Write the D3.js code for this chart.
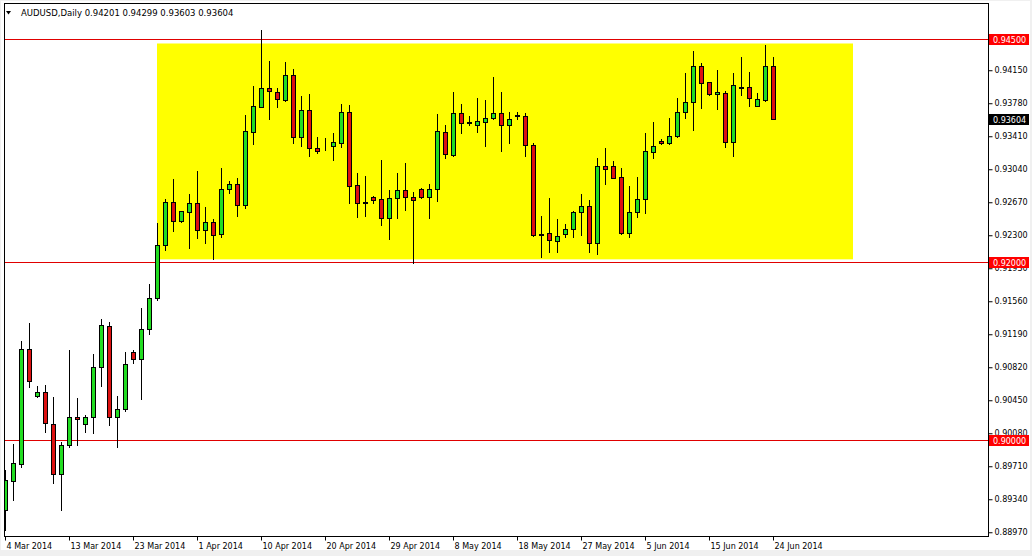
<!DOCTYPE html>
<html>
<head>
<meta charset="utf-8">
<script src="https://cdn.jsdelivr.net/npm/d3@7"></script>
<style>
  html, body { margin: 0; padding: 0; background: #f0f0f0; }
  svg { display: block; }
  text { font-family: "DejaVu Sans", sans-serif; }
</style>
</head>
<body>
<svg id="chart" width="1032" height="556"></svg>
<script>
// ---------------- DATA ----------------
const symbolTitle = "AUDUSD,Daily";
const firstBarDate = "2014-03-04";   // first visible daily bar (broker shows Sunday bars, no Saturday bars)
const openPrices = [
  0.89220,0.89545,0.89735,0.91025,0.90498,0.90543,0.90184,0.89623,0.89948,0.90262,
  0.90184,0.90262,0.90823,0.91283,0.90262,0.90352,0.90991,0.90913,0.91249,0.91596,
  0.92191,0.92673,0.92460,0.92561,0.92661,0.92359,0.92448,0.92314,0.92818,0.92874,
  0.92639,0.93457,0.93738,0.93951,0.93906,0.93816,0.94096,0.93401,0.93704,0.93278,
  0.93300,0.93300,0.93334,0.93682,0.92863,0.92673,0.92729,0.92706,0.92493,0.92717,
  0.92807,0.92729,0.92818,0.92729,0.92818,0.93457,0.93200,0.93670,0.93570,0.93536,
  0.93570,0.93614,0.93670,0.93536,0.93648,0.93637,0.93312,0.92314,0.92325,0.92235,
  0.92314,0.92370,0.92561,0.92628,0.92213,0.93076,0.93076,0.92953,0.92325,0.92561,
  0.92706,0.93233,0.93357,0.93334,0.93413,0.93682,0.93794,0.94197,0.94018,0.93883,
  0.93895,0.93345,0.93962,0.93962,0.93749,0.93816,0.94201
];
const highPrices = [
  0.89668,0.89960,0.91114,0.91317,0.90610,0.90621,0.90487,0.89982,0.91013,0.90475,
  0.90285,0.90969,0.91361,0.91327,0.90498,0.90991,0.91013,0.91484,0.91753,0.92437,
  0.92706,0.92930,0.92572,0.92762,0.93020,0.92617,0.92482,0.93054,0.92908,0.92942,
  0.93648,0.93973,0.94601,0.94253,0.93951,0.94242,0.94164,0.93861,0.93883,0.93401,
  0.93390,0.93446,0.93771,0.93760,0.92998,0.92964,0.92740,0.93143,0.92807,0.92998,
  0.93110,0.92785,0.92830,0.92874,0.93659,0.93536,0.93906,0.93771,0.93637,0.93839,
  0.93816,0.94074,0.93906,0.93682,0.93682,0.93670,0.93334,0.92516,0.92717,0.92482,
  0.92426,0.92572,0.92762,0.92695,0.93166,0.93278,0.93132,0.93054,0.92852,0.92953,
  0.93446,0.93570,0.93379,0.93614,0.93839,0.94119,0.94365,0.94231,0.94018,0.94152,
  0.93917,0.94119,0.94298,0.94130,0.93895,0.94433,0.94299
];
const lowPrices = [
  0.88996,0.89332,0.89702,0.90599,0.90487,0.90094,0.89522,0.89220,0.89926,0.89948,
  0.90094,0.90083,0.90610,0.90173,0.89926,0.90330,0.90868,0.90464,0.91193,0.91574,
  0.92135,0.92348,0.92448,0.92157,0.92269,0.92213,0.92034,0.92280,0.92774,0.92516,
  0.92605,0.93323,0.93738,0.93603,0.93738,0.93805,0.93334,0.93300,0.93188,0.93222,
  0.93256,0.93143,0.93289,0.92661,0.92504,0.92516,0.92661,0.92415,0.92258,0.92493,
  0.92583,0.91989,0.92717,0.92493,0.92684,0.93166,0.93188,0.93446,0.93536,0.93457,
  0.93300,0.93603,0.93244,0.93334,0.93603,0.93188,0.92291,0.92056,0.92112,0.92112,
  0.92280,0.92280,0.92303,0.92112,0.92090,0.92874,0.92942,0.92314,0.92280,0.92504,
  0.92549,0.93166,0.93323,0.93323,0.93401,0.93614,0.93480,0.93726,0.93872,0.93715,
  0.93289,0.93188,0.93872,0.93749,0.93749,0.93805,0.93603
];
const closePrices = [
  0.89556,0.89747,0.91025,0.90666,0.90543,0.90195,0.89623,0.89948,0.90262,0.90240,
  0.90262,0.90823,0.91294,0.90262,0.90352,0.90857,0.90913,0.91249,0.91596,0.92191,
  0.92673,0.92460,0.92572,0.92661,0.92359,0.92448,0.92303,0.92818,0.92874,0.92639,
  0.93469,0.93749,0.93951,0.93917,0.93827,0.94096,0.93401,0.93704,0.93278,0.93244,
  0.93305,0.93345,0.93682,0.92852,0.92661,0.92661,0.92695,0.92493,0.92717,0.92807,
  0.92729,0.92695,0.92729,0.92818,0.93469,0.93211,0.93670,0.93558,0.93558,0.93581,
  0.93614,0.93670,0.93536,0.93603,0.93637,0.93312,0.92303,0.92303,0.92247,0.92291,
  0.92370,0.92561,0.92628,0.92213,0.93076,0.93043,0.92942,0.92325,0.92561,0.92706,
  0.93244,0.93300,0.93334,0.93413,0.93682,0.93794,0.94197,0.94007,0.93883,0.93906,
  0.93345,0.93984,0.93951,0.93839,0.93827,0.94197,0.93604
];
const priceTicks = [0.94150,0.93780,0.93410,0.93040,0.92670,0.92300,0.91930,0.91560,
                    0.91190,0.90820,0.90450,0.90080,0.89710,0.89340,0.88970];
const timeTickLabels = ["4 Mar 2014","13 Mar 2014","23 Mar 2014","1 Apr 2014","10 Apr 2014",
  "20 Apr 2014","29 Apr 2014","8 May 2014","18 May 2014","27 May 2014","5 Jun 2014",
  "15 Jun 2014","24 Jun 2014"];
const levelLines = [0.94500, 0.92000, 0.90000];
const rangeBox = { fromBar: 19, toBar: 106, top: 0.94450, bottom: 0.92030 };

// ---------------- BAR CALENDAR ----------------
const parse = d3.timeParse("%Y-%m-%d");
const fmt = d => `${d.getDate()} ${d3.timeFormat("%b %Y")(d)}`;
const barDates = [];
{
  let d = parse(firstBarDate);
  while (barDates.length < 130) {
    if (d.getDay() !== 6) barDates.push(d);
    d = d3.timeDay.offset(d, 1);
  }
}
const bars = openPrices.map((o, i) => ({
  i, date: barDates[i], o, h: highPrices[i], l: lowPrices[i], c: closePrices[i]
}));
const tickIdx = timeTickLabels.map(lbl => barDates.findIndex(d => fmt(d) === lbl));

// ---------------- LAYOUT ----------------
const W = 1032, H = 556;
const plot = { left: 4, right: 988, top: 3, bottom: 536 };

const svg = d3.select("#chart");
svg.append("rect").attr("width", W).attr("height", H).attr("fill", "#f0f0f0");
svg.append("rect").attr("x", 1).attr("y", 1).attr("width", W - 3).attr("height", 549).attr("fill", "#ffffff");

const x = d3.scaleLinear().domain([0, 96]).range([5, 773]);
const y = d3.scaleLinear().domain([0.88928, 0.94904]).range([536, 3]);

svg.append("defs").append("clipPath").attr("id", "clip")
  .append("rect").attr("x", plot.left + 1).attr("y", plot.top + 1)
  .attr("width", plot.right - plot.left - 1).attr("height", plot.bottom - plot.top - 1);

const g = svg.append("g").attr("clip-path", "url(#clip)");

// range box
g.append("rect")
  .attr("x", x(rangeBox.fromBar))
  .attr("y", y(rangeBox.top))
  .attr("width", x(rangeBox.toBar) - x(rangeBox.fromBar))
  .attr("height", y(rangeBox.bottom) - y(rangeBox.top))
  .attr("fill", "#ffff00");

// level lines
g.selectAll("line.level").data(levelLines).join("line")
  .attr("class", "level")
  .attr("x1", plot.left).attr("x2", plot.right)
  .attr("y1", d => Math.round(y(d)) + 0.5).attr("y2", d => Math.round(y(d)) + 0.5)
  .attr("stroke", "#e00000").attr("stroke-width", 1);

// candles
const cg = g.selectAll("g.candle").data(bars).join("g").attr("class", "candle");
cg.append("line")
  .attr("x1", d => Math.round(x(d.i)) + 0.5).attr("x2", d => Math.round(x(d.i)) + 0.5)
  .attr("y1", d => Math.round(y(d.h))).attr("y2", d => Math.round(y(d.l)) + 1)
  .attr("stroke", "#000").attr("stroke-width", 1);
cg.append("rect")
  .attr("x", d => Math.round(x(d.i)) - 2 + 0.5)
  .attr("y", d => Math.round(y(Math.max(d.o, d.c))) + 0.5)
  .attr("width", 4)
  .attr("height", d => Math.max(0, Math.round(y(Math.min(d.o, d.c))) - Math.round(y(Math.max(d.o, d.c)))))
  .attr("fill", d => d.c >= d.o ? "#22dd22" : "#dd1111")
  .attr("stroke", "#000").attr("stroke-width", 1);

// plot border
svg.append("rect")
  .attr("x", plot.left + 0.5).attr("y", plot.top + 0.5)
  .attr("width", plot.right - plot.left).attr("height", plot.bottom - plot.top)
  .attr("fill", "none").attr("stroke", "#000");

// right axis
const ya = svg.append("g").attr("transform", `translate(${plot.right + 0.5},0)`)
  .call(d3.axisRight(y).tickValues(priceTicks).tickSize(4).tickPadding(2)
        .tickFormat(d3.format(".5f")));
ya.select(".domain").remove();
ya.selectAll(".tick line").attr("stroke", "#000");
ya.selectAll(".tick text").attr("font-size", 8).attr("fill", "#000")
  .attr("font-family", "DejaVu Sans, sans-serif");

// bottom axis
const xa = svg.append("g").attr("transform", `translate(0,${plot.bottom + 0.5})`)
  .call(d3.axisBottom(x).tickValues(tickIdx).tickSize(4)
        .tickFormat((d, k) => timeTickLabels[k]));
xa.select(".domain").remove();
xa.selectAll(".tick line").attr("stroke", "#000");
xa.selectAll(".tick text").attr("font-size", 8).attr("fill", "#000")
  .attr("font-family", "DejaVu Sans, sans-serif")
  .attr("text-anchor", "start").attr("x", 1).attr("y", 12).attr("dy", 0);

// level price labels
const lab = svg.append("g");
levelLines.forEach(v => {
  const yy = Math.round(y(v));
  lab.append("rect").attr("x", plot.right + 1).attr("y", yy - 5).attr("width", 40).attr("height", 11)
    .attr("fill", "#ff0000");
  lab.append("text").attr("x", plot.right + 5).attr("y", yy + 3.5).attr("font-size", 8)
    .attr("fill", "#fff").text(d3.format(".5f")(v));
});
// last price label
{
  const last = bars[bars.length - 1].c;
  const yy = Math.round(y(last));
  lab.append("rect").attr("x", plot.right + 1).attr("y", yy - 5).attr("width", 40).attr("height", 11)
    .attr("fill", "#000");
  lab.append("text").attr("x", plot.right + 5).attr("y", yy + 3.5).attr("font-size", 8)
    .attr("fill", "#fff").text(d3.format(".5f")(last));
}

// header
const lb = bars[bars.length - 1];
svg.append("path").attr("d", "M6,11 L11,11 L8.5,14.5 Z").attr("fill", "#000");
svg.append("text").attr("x", 21).attr("y", 16).attr("font-size", 8.5).attr("fill", "#000")
  .text(`${symbolTitle}  ${[lb.o, lb.h, lb.l, lb.c].map(d3.format(".5f")).join(" ")}`);
</script>
</body>
</html>
